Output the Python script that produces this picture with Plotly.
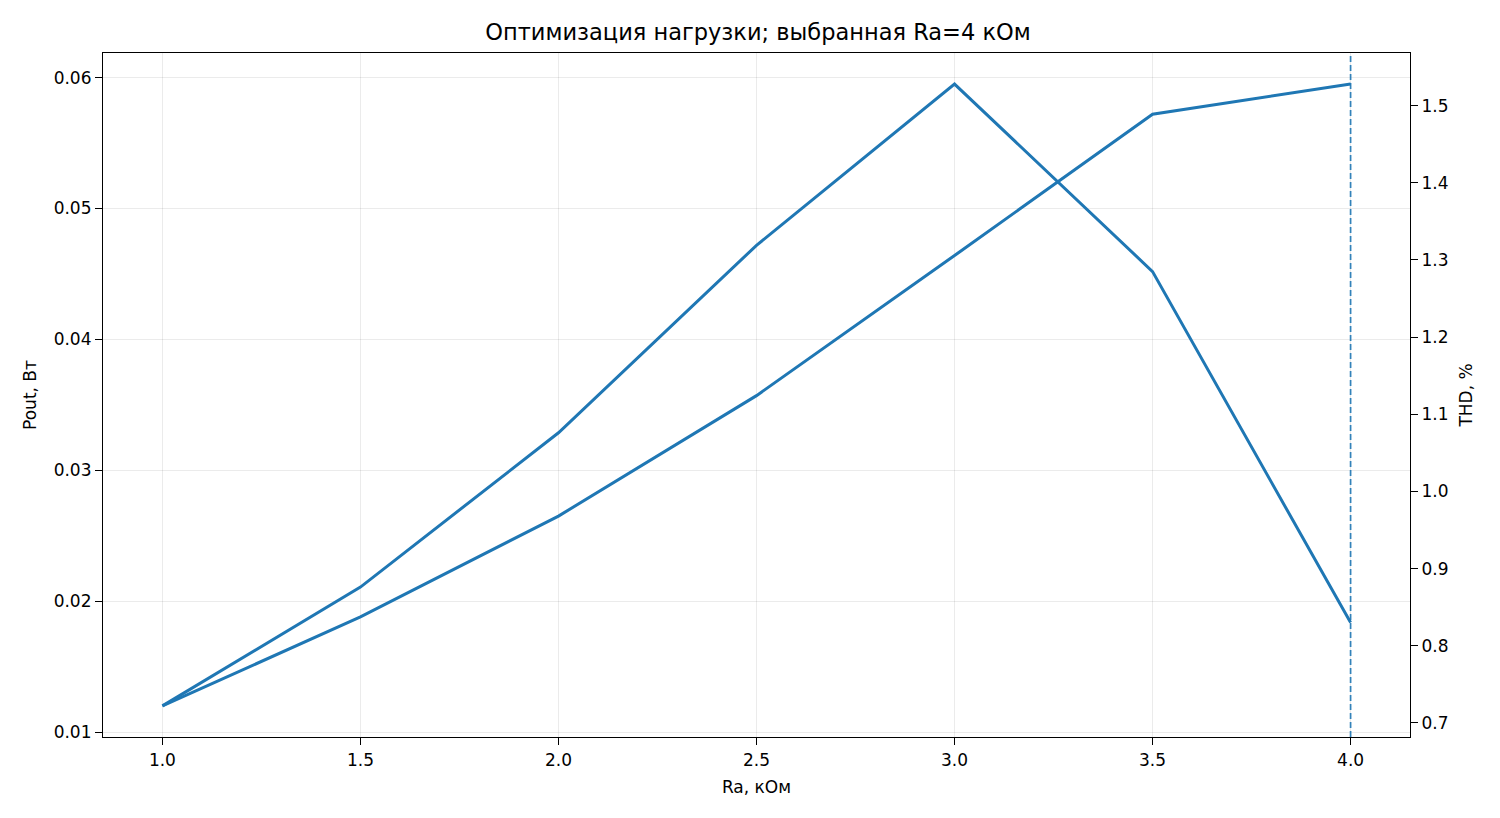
import plotly.graph_objects as go

# Нагрузка и результаты расчёта
ra_kohm = [1.0, 1.5, 2.0, 2.5, 3.0, 3.5, 4.0]
pout_w = [0.0120, 0.0188, 0.0265, 0.0357, 0.0464, 0.0572, 0.0595]
thd_pct = [0.722, 0.876, 1.076, 1.319, 1.528, 1.285, 0.830]
chosen_ra = 4.0

x_ticks = [1.0, 1.5, 2.0, 2.5, 3.0, 3.5, 4.0]
left_ticks = [0.01, 0.02, 0.03, 0.04, 0.05, 0.06]
right_ticks = [0.7, 0.8, 0.9, 1.0, 1.1, 1.2, 1.3, 1.4, 1.5]

blue = "#1f77b4"
font = dict(family="DejaVu Sans", size=17, color="black")


def padded(vals, frac=0.05):
    lo, hi = min(vals), max(vals)
    pad = (hi - lo) * frac
    return [lo - pad, hi + pad]


fig = go.Figure()
fig.add_trace(go.Scatter(x=ra_kohm, y=pout_w, mode="lines",
                         line=dict(color=blue, width=3), name="Pout"))
fig.add_trace(go.Scatter(x=ra_kohm, y=thd_pct, mode="lines", yaxis="y2",
                         line=dict(color=blue, width=3), name="THD"))

fig.add_vline(x=chosen_ra, opacity=0.9,
              line=dict(color=blue, width=1.7, dash="6px,3px"))

axis_common = dict(showline=True, linecolor="black", linewidth=1.2,
                   ticks="outside", ticklen=7, tickcolor="black",
                   tickfont=font, zeroline=False)

fig.update_layout(
    width=1500, height=818,
    margin=dict(l=95, r=98, t=45, b=89),
    plot_bgcolor="white", paper_bgcolor="white",
    showlegend=False,
    font=font,
    title=dict(text="Оптимизация нагрузки; выбранная Ra=4 кОм",
               x=0.5, xanchor="center", y=0.97, yanchor="middle",
               font=dict(family="DejaVu Sans", size=22.5, color="black")),
    xaxis=dict(axis_common, range=padded(ra_kohm), tickvals=x_ticks,
               ticktext=[f"{v:.1f}" for v in x_ticks], mirror=True,
               showgrid=True, gridcolor="rgba(0,0,0,0.08)",
               title=dict(text="Ra, кОм", font=font, standoff=12)),
    yaxis=dict(axis_common, range=padded(pout_w), tickvals=left_ticks,
               ticktext=[f"{v:.2f}" for v in left_ticks],
               showgrid=True, gridcolor="rgba(0,0,0,0.08)",
               title=dict(text="Pout, Вт", font=font, standoff=12)),
    yaxis2=dict(axis_common, range=padded(thd_pct), tickvals=right_ticks,
                ticktext=[f"{v:.1f}" for v in right_ticks],
                overlaying="y", side="right", showgrid=False,
                title=dict(text="THD, %", font=font, standoff=12)),
)

fig.write_html("out.html")
